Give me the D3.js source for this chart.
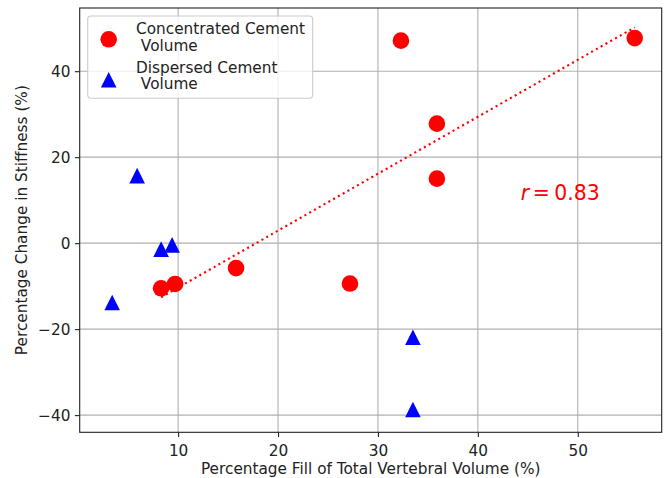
<!DOCTYPE html>
<html>
<head>
<meta charset="utf-8">
<script src="https://cdn.jsdelivr.net/npm/d3@7"></script>
<style>
  html, body { margin: 0; padding: 0; background: #fff; }
  svg { display: block; font-family: "DejaVu Sans", sans-serif; }
</style>
</head>
<body>
<svg id="chart" width="664" height="478"></svg>
<script>
// ---- data ----
const concX = [8.3, 9.7, 15.8, 27.2, 32.3, 35.9, 35.9, 55.7];
const concY = [-10.5, -9.5, -5.8, -9.4, 47.1, 27.8, 15.0, 47.7];
const dispX = [5.9, 8.3, 9.4, 3.4, 33.5, 33.5];
const dispY = [15.7, -1.4, -0.4, -13.8, -21.9, -38.7];
const fitX = [8.3, 55.7];
const fitY = [-12.6, 50.2];
const xTicks = [10, 20, 30, 40, 50];
const yTicks = [-40, -20, 0, 20, 40];
const rLabel = "0.83";

// ---- layout ----
const FS = "15.3px";
const svg = d3.select("#chart");
const L = 79.7, R = 661.7, T = 8, B = 432.3;
const x = d3.scaleLinear().domain([0.15, 58.4]).range([L, R]);
const y = d3.scaleLinear().domain([-44, 54.7]).range([B, T]);

// grid
const grid = svg.append("g");
grid.selectAll("line.vx").data(xTicks).join("line")
  .attr("x1", d => x(d)).attr("x2", d => x(d)).attr("y1", T).attr("y2", B)
  .attr("stroke", "#b0b0b0").attr("stroke-width", 1.1);
grid.selectAll("line.hy").data(yTicks).join("line")
  .attr("y1", d => y(d)).attr("y2", d => y(d)).attr("x1", L).attr("x2", R)
  .attr("stroke", "#b0b0b0").attr("stroke-width", 1.1);

// axes
const xAxis = d3.axisBottom(x).tickValues(xTicks).tickSize(4.8).tickPadding(4.5).tickFormat(d3.format("d"));
const yAxis = d3.axisLeft(y).tickValues(yTicks).tickSize(4.8).tickPadding(4.5)
  .tickFormat(d => (d < 0 ? "\u2212" + Math.abs(d) : String(d)));
const gx = svg.append("g").attr("transform", `translate(0,${B})`).call(xAxis);
const gy = svg.append("g").attr("transform", `translate(${L},0)`).call(yAxis);
[gx, gy].forEach(g => {
  g.select(".domain").remove();
  g.selectAll(".tick line").attr("stroke", "#222").attr("stroke-width", 1.1);
  g.selectAll(".tick text").attr("fill", "#222").style("font-size", FS)
    .style("font-family", "DejaVu Sans, sans-serif");
});
gx.selectAll(".tick text").attr("dy", "0.95em");

// data marks
const marks = svg.append("g");
marks.selectAll("circle").data(concX.map((d, i) => [d, concY[i]])).join("circle")
  .attr("cx", d => x(d[0])).attr("cy", d => y(d[1])).attr("r", 8.3).attr("fill", "#ff0000");
const tri = s => `M0,${-s}L${-s},${s}L${s},${s}Z`;
marks.selectAll("path").data(dispX.map((d, i) => [d, dispY[i]])).join("path")
  .attr("d", tri(7.8))
  .attr("transform", d => `translate(${x(d[0])},${y(d[1])})`)
  .attr("fill", "#0000ff");

// fit line
const line = d3.line().x(d => x(d[0])).y(d => y(d[1]));
svg.append("path").datum(fitX.map((d, i) => [d, fitY[i]]))
  .attr("d", line).attr("fill", "none").attr("stroke", "#ff0000")
  .attr("stroke-width", 2.1).attr("stroke-dasharray", "2.1,3.4");

// spines
svg.append("rect").attr("x", L).attr("y", T).attr("width", R - L).attr("height", B - T)
  .attr("fill", "none").attr("stroke", "#222").attr("stroke-width", 1.1);

// r label
const rt = svg.append("text").attr("x", x(44.3)).attr("y", y(10)).attr("fill", "#ff0000")
  .style("font-size", "20.4px");
rt.append("tspan").attr("font-style", "italic").text("r");
rt.append("tspan").attr("dx", 3.5).text("=");
rt.append("tspan").attr("dx", 4.5).text(rLabel);

// axis labels
svg.append("text").attr("x", (L + R) / 2).attr("y", 474).attr("text-anchor", "middle")
  .attr("fill", "#222").style("font-size", FS)
  .text("Percentage Fill of Total Vertebral Volume (%)");
svg.append("text").attr("transform", `translate(27,${(T + B) / 2}) rotate(-90)`)
  .attr("text-anchor", "middle").attr("fill", "#222").style("font-size", FS)
  .text("Percentage Change in Stiffness (%)");

// legend
const lg = svg.append("g");
lg.append("rect").attr("x", 87.7).attr("y", 16).attr("width", 225).attr("height", 82.3)
  .attr("rx", 3.5).attr("fill", "#fff").attr("fill-opacity", 0.8)
  .attr("stroke", "#cccccc").attr("stroke-width", 1.1);
lg.append("circle").attr("cx", 108.7).attr("cy", 39.3).attr("r", 8.3).attr("fill", "#ff0000");
lg.append("path").attr("d", tri(7.8)).attr("transform", "translate(108.7,79.7)").attr("fill", "#0000ff");
const legendLabels = [["Concentrated Cement", "\u00a0Volume"], ["Dispersed Cement", "\u00a0Volume"]];
legendLabels.forEach((lines, i) => {
  const t = lg.append("text").attr("x", 136).attr("y", 34 + i * 38.7)
    .attr("fill", "#222").style("font-size", FS);
  lines.forEach((s, j) => t.append("tspan").attr("x", 136).attr("dy", j === 0 ? 0 : 16.7).text(s));
});
</script>
</body>
</html>
